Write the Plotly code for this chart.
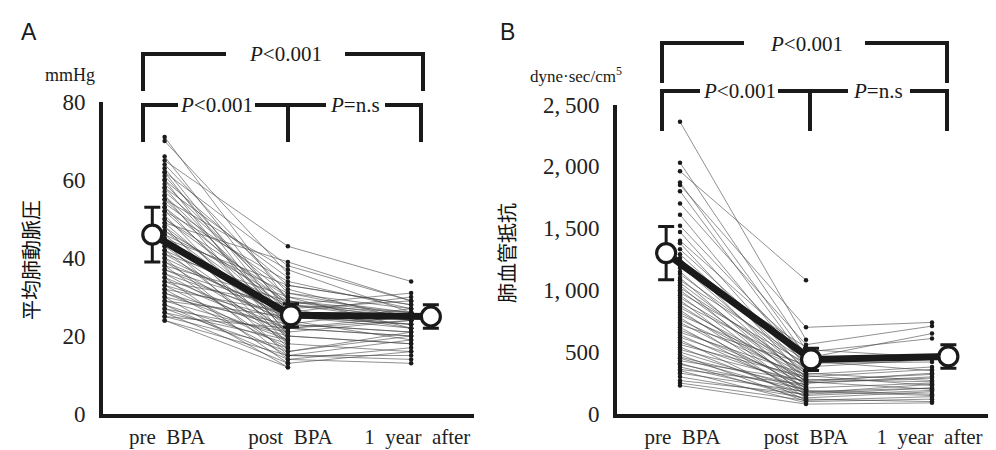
import plotly.graph_objects as go

# ---------------- data ----------------
categories = ["pre\u2002BPA", "post\u2002BPA", "1\u2002year\u2002after"]
yticks_A = [0, 20, 40, 60, 80]
yticks_B = [0, 500, 1000, 1500, 2000, 2500]
yticklabels_B = ["0", "500", "1,\u2009000", "1,\u2009500", "2,\u2009000", "2,\u2009500"]

# Panel A: mean pulmonary arterial pressure (mmHg), one entry per patient
mpap_pre = [71, 70, 66, 65, 64, 63, 62, 62, 61, 60, 60, 59, 58, 58, 57, 56, 56, 55, 55, 54,
            53, 53, 52, 52, 51, 50, 50, 49, 49, 48, 48, 47, 47, 46, 46, 45, 45, 44, 44, 43,
            43, 42, 42, 41, 41, 40, 40, 39, 39, 38, 38, 37, 37, 36, 36, 35, 35, 34, 34, 33,
            33, 32, 32, 31, 31, 30, 30, 29, 29, 28, 28, 27, 27, 26, 26, 25, 25, 24, 24]
mpap_post = [29, 36, 26, 43, 31, 24, 38, 22, 27, 33, 20, 28, 35, 23, 30, 26, 19, 37, 25, 32,
             21, 28, 24, 34, 18, 27, 30, 22, 39, 25, 17, 29, 23, 31, 20, 26, 33, 24, 15, 28,
             21, 27, 18, 30, 23, 25, 14, 26, 20, 29, 16, 24, 27, 19, 25, 22, 13, 28, 21, 17,
             24, 26, 15, 22, 19, 23, 12, 20, 25, 18, 14, 21, 16, 19, 13, 17, 22, 15, 12]
mpap_1y = [24, None, None, 34, 27, None, 29, 20, None, 28, None, 25, None, 21, None, 30, None, 26, None, 24,
           None, 31, None, 27, 16, None, 22, None, 29, 23, None, 26, None, 25, 18, None, 28, None, 19, 24,
           None, 22, None, 26, 27, None, 17, 23, None, 25, 21, None, 29, None, 22, 20, None, 26, 24, None,
           19, None, 15, 25, None, 21, None, 18, 23, None, 13, None, 20, None, 16, None, 24, 14, None]
mpap_mean = [46.0, 25.3, 25.0]
mpap_sd = [7.0, 3.0, 3.0]

# Panel B: pulmonary vascular resistance (dyne*sec/cm5), one entry per patient
pvr_pre = [2360, 2030, 1960, 1870, 1850, 1800, 1700, 1610, 1520, 1470, 1400, 1380, 1330, 1290, 1260,
           1240, 1200, 1180, 1150, 1130, 1100, 1080, 1060, 1040, 1020, 1000, 980, 960, 940, 920,
           900, 880, 860, 840, 820, 800, 780, 760, 740, 720, 700, 680, 660, 640, 620,
           600, 580, 560, 540, 520, 500, 480, 460, 450, 430, 410, 400, 380, 360, 350,
           330, 300, 270, 250, 230]
pvr_post = [600, 520, 1080, 470, 700, 430, 560, 380, 450, 340, 500, 290, 410, 360, 250,
            470, 320, 540, 280, 390, 220, 430, 300, 180, 350, 260, 410, 200, 330, 150,
            380, 240, 310, 170, 270, 350, 130, 290, 210, 400, 160, 250, 320, 190, 280,
            110, 230, 300, 140, 260, 190, 100, 220, 170, 270, 120, 200, 150, 240, 90,
            180, 130, 160, 110, 80]
pvr_1y = [None, 460, None, None, 740, None, 710, None, 650, None, 610, None, 420, None, 300,
          None, 380, None, 260, None, None, 350, None, 210, None, 330, None, None, 270, None,
          440, None, 230, None, 320, None, 180, None, 250, None, None, 290, None, 160, None,
          140, None, 360, None, 200, None, 120, None, 240, None, 100, None, 190, None, None,
          150, None, 210, None, 90]
pvr_mean = [1300, 441, 465]
pvr_sd = [215, 90, 95]

# ---------------- styling helpers ----------------
W, H = 996, 450
TOP, BOT = 94, 406  # pixel rows of plot area top / bottom
INK = "#1a1a1a"
SERIF = "Liberation Serif"


def fx(px):
    return px / W


def fy(py):
    return (BOT - py) / (BOT - TOP)


fig = go.Figure()


def add_panel(pre, post, yr, mean, sd, xa, ya, mean_offsets):
    xs, ys = [], []
    for a, b, c in zip(pre, post, yr):
        xs += [0, 1, 2, None]
        ys += [a, b, c, None]
    fig.add_trace(go.Scatter(x=xs, y=ys, mode="lines", xaxis=xa, yaxis=ya,
                             line=dict(color="rgba(70,70,70,0.85)", width=0.7),
                             hoverinfo="skip", showlegend=False))
    dx, dy = [], []
    for i, col in enumerate([pre, post, yr]):
        for v in col:
            if v is not None:
                dx.append(i)
                dy.append(v)
    fig.add_trace(go.Scatter(x=dx, y=dy, mode="markers", xaxis=xa, yaxis=ya,
                             marker=dict(color=INK, size=4.5), showlegend=False))
    mx = [i + o for i, o in enumerate(mean_offsets)]
    fig.add_trace(go.Scatter(x=mx, y=mean, mode="lines", xaxis=xa, yaxis=ya,
                             line=dict(color=INK, width=7), showlegend=False))
    fig.add_trace(go.Scatter(x=mx, y=mean, mode="markers", xaxis=xa, yaxis=ya,
                             marker=dict(color="white", size=19, line=dict(color=INK, width=3.2)),
                             error_y=dict(type="data", array=sd, color=INK, thickness=3, width=8),
                             showlegend=False))


add_panel(mpap_pre, mpap_post, mpap_1y, mpap_mean, mpap_sd, "x", "y", [-0.10, 0.025, 0.16])
add_panel(pvr_pre, pvr_post, pvr_1y, pvr_mean, pvr_sd, "x2", "y2", [-0.11, 0.04, 0.13])

TICKFONT = dict(family=SERIF, size=23, color="#222222")
XTICKFONT = dict(family=SERIF, size=21, color="#222222")
axis_common = dict(showline=True, linewidth=4, linecolor=INK, showgrid=False, zeroline=False,
                   ticks="")

fig.update_layout(
    width=W, height=H,
    font=dict(family=SERIF, color=INK),
    margin=dict(l=0, r=0, t=TOP, b=H - BOT),
    paper_bgcolor="white", plot_bgcolor="white",
    xaxis=dict(domain=[fx(95), fx(466)], range=[-0.5, 2.51], tickvals=[0.02, 1.02, 2.05],
               ticktext=categories, ticklabelstandoff=1, tickfont=XTICKFONT, **axis_common),
    yaxis=dict(domain=[0, 1], range=[0, 80], tickvals=yticks_A, ticklabelstandoff=9,
               tickfont=TICKFONT, **axis_common),
    xaxis2=dict(domain=[fx(609), fx(987)], range=[-0.5, 2.5], tickvals=[0.02, 1.0, 1.98],
                ticktext=categories, ticklabelstandoff=1, anchor="y2", tickfont=XTICKFONT,
                **axis_common),
    yaxis2=dict(domain=[0, (BOT - 96.5) / (BOT - TOP)], range=[0, 2500], tickvals=yticks_B,
                ticktext=yticklabels_B, ticklabelstandoff=9, anchor="x2", tickfont=TICKFONT,
                **axis_common),
)


# ---------------- annotations ----------------
def ann(text, px, py, size=20, family=SERIF, angle=0, color=INK):
    fig.add_annotation(text=text, x=fx(px), y=fy(py), xref="paper", yref="paper",
                       showarrow=False, xanchor="center", yanchor="middle", textangle=angle,
                       font=dict(family=family, size=size, color=color))


ann("A", 21, 24, size=23, family="Liberation Sans")
ann("B", 499, 24, size=23, family="Liberation Sans")
ann("mmHg", 62, 67, size=18)
ann("dyne\u00b7sec/cm<sup>5</sup>", 568, 67, size=17)
ann("平均肺動脈圧", 22, 252, size=20, family="Noto Sans CJK JP", angle=-90, color="#111111")
ann("肺血管抵抗", 499, 245, size=20, family="Noto Sans CJK JP", angle=-90, color="#111111")

PLT = "<i>P</i>&lt;0.001"
PNS = "<i>P</i>=n.s"
ann(PLT, 277, 46, size=21)
ann(PLT, 208, 97, size=21)
ann(PNS, 347, 97, size=21)
ann(PLT, 798, 36, size=21)
ann(PLT, 731, 83, size=21)
ann(PNS, 870, 83, size=21)


# ---------------- brackets ----------------
def seg_path(points):
    return "M " + " L ".join(f"{fx(a)},{fy(b)}" for a, b in points)


def add_path(points):
    fig.add_shape(type="path", path=seg_path(points), xref="paper", yref="paper",
                  line=dict(color=INK, width=4))


# Panel A brackets
add_path([(135, 83), (135, 46), (218, 46)])
add_path([(337, 46), (415, 46), (415, 83)])
add_path([(135, 134), (135, 97), (170, 97)])
add_path([(247, 97), (318, 97)])
add_path([(280, 97), (280, 134)])
add_path([(377, 97), (413, 97), (413, 134)])
# Panel B brackets
add_path([(654, 75), (654, 35), (736, 35)])
add_path([(857, 35), (939, 35), (939, 75)])
add_path([(654, 123), (654, 83), (692, 83)])
add_path([(770, 83), (840, 83)])
add_path([(802, 83), (802, 123)])
add_path([(902, 83), (939, 83), (939, 123)])

fig.write_html("out.html")
